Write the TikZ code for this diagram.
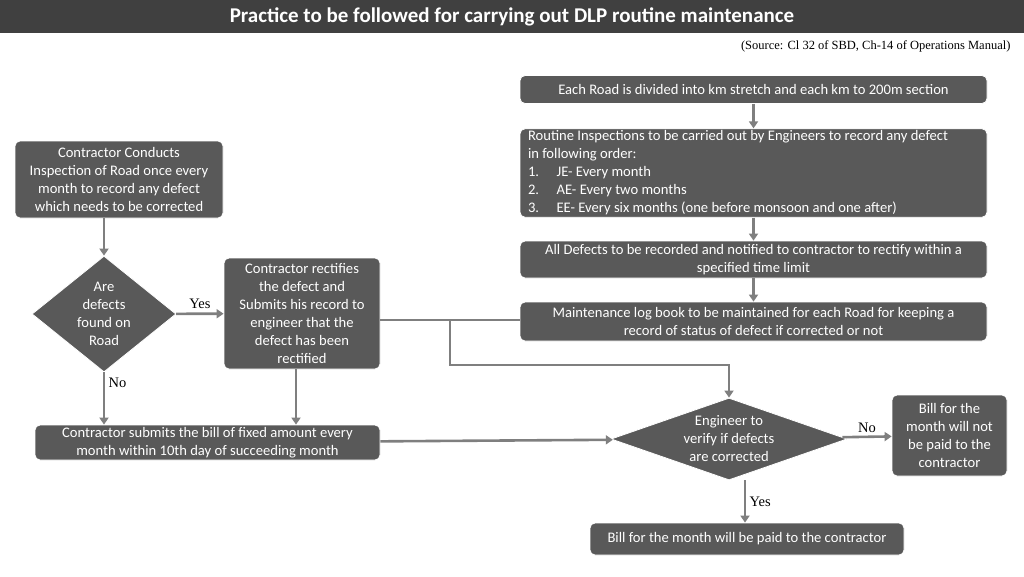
\documentclass[tikz,border=0pt]{standalone}
\usepackage{fontspec}
\setmainfont{Carlito}
\newfontfamily\srcfont{Liberation Serif}
\usetikzlibrary{shapes.geometric, positioning, arrows.meta}
\definecolor{boxgray}{HTML}{595959}
\definecolor{bargray}{HTML}{404040}
\definecolor{arrgray}{HTML}{7F7F7F}
\tikzset{
  box/.style={draw=white, line width=0.8pt, fill=boxgray, rounded corners=5pt, text=white,
    align=center, font=\fontsize{14.6}{18}\selectfont, inner sep=2pt},
  decision/.style={diamond, draw=white, line width=0.8pt, fill=boxgray, text=white, align=center,
    font=\fontsize{14.6}{18}\selectfont, aspect=1.3, inner sep=0pt},
  flow/.style={arrgray, line width=2.6pt, -{Triangle[length=7pt,width=9pt]}},
  link/.style={arrgray, line width=2.6pt},
  lbl/.style={font=\srcfont\fontsize{14.5}{16}\selectfont}
}
\begin{document}
\begin{tikzpicture}[x=1pt, y=-1pt]
  \useasboundingbox (0,0) rectangle (1024,576);
  \fill[bargray] (0,0) rectangle (1024,33);
  \node[text=white, font=\bfseries\fontsize{21}{23}\selectfont] (title) at (512,17)
    {Practice to be followed for carrying out DLP routine maintenance};
  \node[font=\srcfont\fontsize{12.5}{14}\selectfont, anchor=east] (source) at (1014,46)
    {(Source: Cl 32 of SBD, Ch-14 of Operations Manual)};
  % right column
  \node[box, minimum width=467pt, minimum height=28pt] (stretch) at (753.5,89.5)
    {Each Road is divided into km stretch and each km to 200m section};
  \node[box, minimum width=467pt, minimum height=88pt, align=flush left, text width=451pt] (routine) at (753.5,173)
    {Routine Inspections to be carried out by Engineers to record any defect\\
     in following order:\\
     1.\hspace{1.2em}JE- Every month\\
     2.\hspace{1.2em}AE- Every two months\\
     3.\hspace{1.2em}EE- Every six months (one before monsoon and one after)};
  \node[box, minimum width=467pt, minimum height=37pt] (record) at (753.5,259.5)
    {All Defects to be recorded and notified to contractor to rectify within a\\ specified time limit};
  \node[box, minimum width=467pt, minimum height=39pt] (logbook) at (753.5,321.5)
    {Maintenance log book to be maintained for each Road for keeping a\\ record of status of defect if corrected or not};
  % left column
  \node[box, minimum width=208pt, minimum height=77pt] (inspect) at (119,179.5)
    {Contractor Conducts\\ Inspection of Road once every\\ month to record any defect\\ which needs to be corrected};
  \node[decision, minimum width=144pt, minimum height=116pt] (found) at (104,314)
    {Are\\ defects\\ found on\\ Road};
  \node[box, minimum width=156pt, minimum height=111pt] (rectify) at (302,313.5)
    {Contractor rectifies\\ the defect and\\ Submits his record to\\ engineer that the\\ defect has been\\ rectified};
  \node[box, minimum width=345pt, minimum height=35pt] (bill) at (207.5,442.5)
    {Contractor submits the bill of fixed amount every\\ month within 10th day of succeeding month};
  \node[decision, minimum width=236pt, minimum height=82pt, aspect=2.9] (verify) at (729,439)
    {Engineer to\\ verify if defects\\ are corrected};
  \node[box, minimum width=115pt, minimum height=81pt] (notpaid) at (949.5,435.5)
    {Bill for the\\ month will not\\ be paid to the\\ contractor};
  \node[box, minimum width=314pt, minimum height=32pt] (paid) at (747,539)
    {Bill for the month will be paid to the contractor};
  % connectors
  \draw[flow] (stretch) -- (routine);
  \draw[flow] (routine) -- (record);
  \draw[flow] (record) -- (logbook);
  \draw[flow] (inspect.south -| found) -- (found);
  \draw[flow] (found) -- node[lbl, above, text=black] {Yes} (rectify);
  \draw[flow] (found) -- node[lbl, pos=0.2, right, text=black] {No} (bill.north -| found);
  \draw[flow] (rectify.south -| 296,0) -- (bill.north -| 296,0);
  \draw[link] (rectify.east |- 0,320) -- (logbook.west |- 0,320);
  \coordinate (split) at (450,320);
  \draw[flow] (split) |- (729,365) -- (verify.north);
  \draw[flow] (bill) -- (verify);
  \draw[flow] (verify) -- node[lbl, above, text=black] {No} (notpaid);
  \draw[flow] (verify.south -| 745,0) -- node[lbl, right, text=black] {Yes} (paid.north -| 745,0);
\end{tikzpicture}
\end{document}
